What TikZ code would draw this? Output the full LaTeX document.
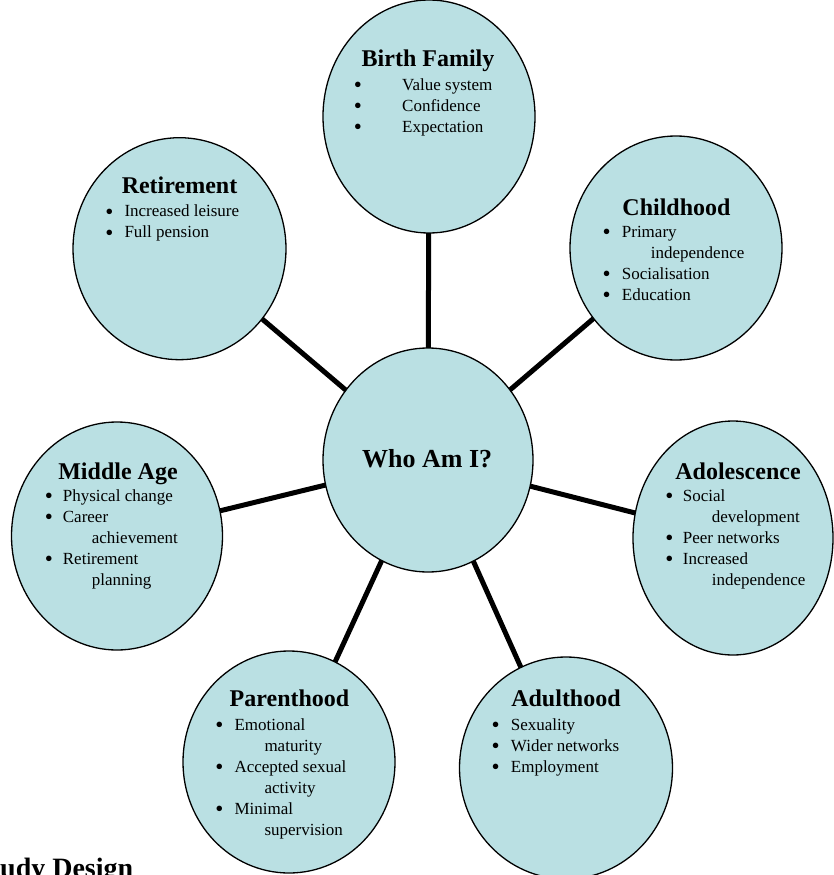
\documentclass[tikz,border=0pt]{standalone}
\usepackage{fontspec}
\setmainfont{Liberation Serif}
\usetikzlibrary{shapes.geometric,backgrounds}
\definecolor{cfill}{RGB}{186,224,227}
\tikzset{
  bub/.style={ellipse, draw=black, line width=1.3pt, fill=cfill, inner sep=0pt, outer sep=0pt},
  ttl/.style={anchor=base, inner sep=0pt, font=\fontsize{24}{28}\selectfont\bfseries},
  itm/.style={anchor=base west, inner sep=0pt, font=\fontsize{17}{21}\selectfont},
  blt/.style={anchor=base, inner sep=0pt, yshift=-2.5pt, font=\fontsize{23}{27}\selectfont},
  conn/.style={line width=5pt, draw=black},
}
\newcommand\bulletline[5]{\node[blt] (#1b) at (#2,#4) {•}; \node[itm] (#1) at (#3,#4) {#5};}
\newcommand\contline[4]{\node[itm] (#1) at (#2,#3) {#4};}
\begin{document}
\begin{tikzpicture}[x=1pt,y=-1pt]
\useasboundingbox (0,0) rectangle (834,875);
\clip (0,0) rectangle (834,875);

% ellipses
\node[bub, minimum width=212pt, minimum height=233pt] (bf) at (429,116.5) {};
\node[bub, minimum width=212pt, minimum height=224pt] (ch) at (676,248) {};
\node[bub, minimum width=200pt, minimum height=234pt] (ad) at (733,538) {};
\node[bub, minimum width=213pt, minimum height=222pt] (ua) at (566,768) {};
\node[bub, minimum width=212pt, minimum height=222pt] (pa) at (289,762) {};
\node[bub, minimum width=211pt, minimum height=228pt] (ma) at (117,536) {};
\node[bub, minimum width=213pt, minimum height=222pt] (re) at (179.5,248.7) {};
\node[bub, minimum width=210pt, minimum height=224pt] (c) at (428,460) {};

% connectors
\begin{pgfonlayer}{background}
\foreach \n in {bf,ch,ad,ua,pa,ma,re}{
  \draw[conn] (c.center) -- (\n.center);
}
\end{pgfonlayer}

% centre
\node[anchor=base, inner sep=0pt, font=\fontsize{26}{30}\selectfont\bfseries] (ct) at (427.2,467.3) {Who Am I?};

% Birth Family
\node[ttl] (bft) at (428,66.5) {Birth Family};
\bulletline{bf1}{358}{402}{90}{Value system}
\bulletline{bf2}{358}{402}{111}{Confidence}
\bulletline{bf3}{358}{402}{132}{Expectation}

% Childhood
\node[ttl] (cht) at (676.5,215) {Childhood};
\bulletline{ch1}{606.7}{621.7}{237}{Primary}
\contline{ch1c}{650.7}{258}{independence}
\bulletline{ch2}{606.7}{621.7}{279}{Socialisation}
\bulletline{ch3}{606.7}{621.7}{300}{Education}

% Adolescence
\node[ttl] (adt) at (738,479.3) {Adolescence};
\bulletline{ad1}{669.3}{682.7}{501}{Social}
\contline{ad1c}{711.7}{522}{development}
\bulletline{ad2}{669.3}{682.7}{543}{Peer networks}
\bulletline{ad3}{669.3}{682.7}{564}{Increased}
\contline{ad3c}{711.7}{585}{independence}

% Middle Age
\node[ttl] (mat) at (118,479.3) {Middle Age};
\bulletline{ma1}{49}{62.7}{501}{Physical change}
\bulletline{ma2}{49}{62.7}{522}{Career}
\contline{ma2c}{91.7}{543}{achievement}
\bulletline{ma3}{49}{62.7}{564}{Retirement}
\contline{ma3c}{91.7}{585}{planning}

% Parenthood
\node[ttl] (pat) at (289.5,706.7) {Parenthood};
\bulletline{pa1}{219.3}{234.3}{730}{Emotional}
\contline{pa1c}{264.3}{751}{maturity}
\bulletline{pa2}{219.3}{234.3}{772}{Accepted sexual}
\contline{pa2c}{264.3}{793}{activity}
\bulletline{pa3}{219.3}{234.3}{814}{Minimal}
\contline{pa3c}{264.3}{835}{supervision}

% Adulthood
\node[ttl] (uat) at (566,706.7) {Adulthood};
\bulletline{ua1}{495.7}{510.7}{730}{Sexuality}
\bulletline{ua2}{495.7}{510.7}{751}{Wider networks}
\bulletline{ua3}{495.7}{510.7}{772}{Employment}

% Retirement
\node[ttl] (ret) at (179.5,193.3) {Retirement};
\bulletline{re1}{109.3}{124.3}{216.5}{Increased leisure}
\bulletline{re2}{109.3}{124.3}{237.5}{Full pension}

% cut-off heading (cut at the bottom edge, as in the reference)
\node[anchor=base west, inner sep=0pt, font=\fontsize{28}{32}\selectfont\bfseries] (sd) at (0,877) {udy Design};
\end{tikzpicture}
\end{document}
